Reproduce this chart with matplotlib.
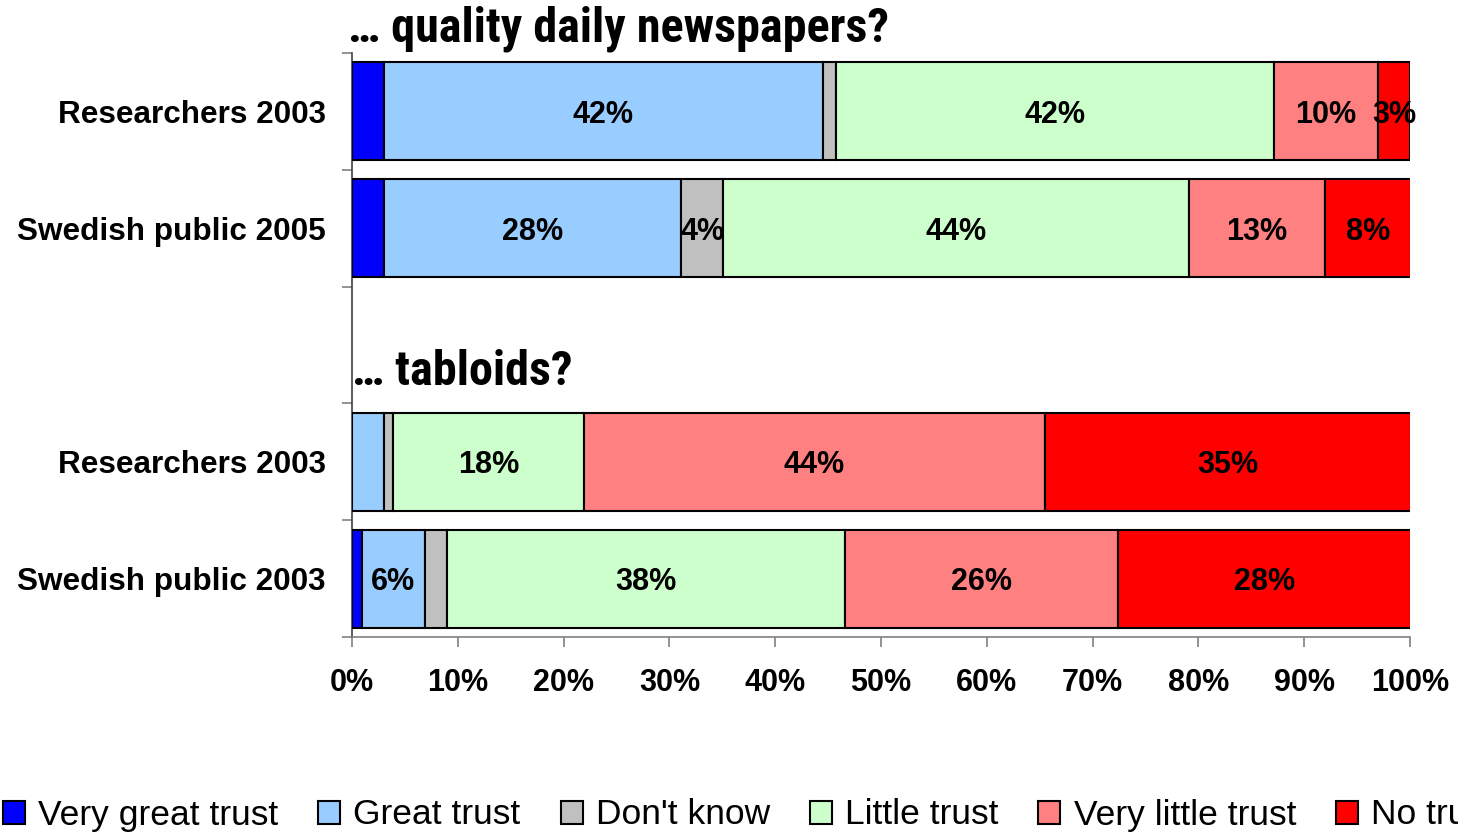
#!/usr/bin/env python3
"""Trust in quality daily newspapers and tabloids: researchers vs Swedish public."""

import matplotlib
matplotlib.use("Agg")
import matplotlib.pyplot as plt
from matplotlib import font_manager
from matplotlib.font_manager import FontProperties
from matplotlib.patches import Patch
from matplotlib.ticker import FixedLocator, PercentFormatter

# rows from top to bottom; the empty row is the gap under the tabloids title
categories = ["Researchers 2003", "Swedish public 2005", "",
              "Researchers 2003", "Swedish public 2003"]

series_names = ["Very great trust", "Great trust", "Don't know",
                "Little trust", "Very little trust", "No trust"]
colors = ["#0000FF", "#99CCFF", "#C0C0C0", "#CCFFCC", "#FF8080", "#FF0000"]

very_great = [3.0, 3.0, 0.0, 0.0, 0.9]
great = [41.5, 28.1, 0.0, 3.0, 6.0]
dont_know = [1.2, 4.0, 0.0, 0.9, 2.1]
little = [41.4, 44.0, 0.0, 18.0, 37.6]
very_little = [9.9, 12.9, 0.0, 43.6, 25.8]
no_trust = [3.0, 8.1, 0.0, 34.6, 27.7]

very_great_labels = ["", "", "", "", ""]
great_labels = ["42%", "28%", "", "", "6%"]
dont_know_labels = ["", "4%", "", "", ""]
little_labels = ["42%", "44%", "", "18%", "38%"]
very_little_labels = ["10%", "13%", "", "44%", "26%"]
no_trust_labels = ["3%", "8%", "", "35%", "28%"]

xticks = [0, 10, 20, 30, 40, 50, 60, 70, 80, 90, 100]

series = [very_great, great, dont_know, little, very_little, no_trust]
labels = [very_great_labels, great_labels, dont_know_labels,
          little_labels, very_little_labels, no_trust_labels]

BOLD = dict(family=["Liberation Sans", "DejaVu Sans"], weight="bold")


def is_bold(w):
    if isinstance(w, str):
        return w in ("bold", "semibold", "demibold", "demi", "heavy", "black", "extra bold")
    return w >= 600


# headings are in a narrow bold face; use a bold condensed file if one is installed
narrow = sorted((f for f in font_manager.fontManager.ttflist
                 if ("Narrow" in f.name or "Condensed" in f.name) and is_bold(f.weight)
                 and f.style == "normal"),
                key=lambda f: ("Liberation" not in f.name, "Roboto" not in f.name, f.name))
if narrow:
    head_prop = FontProperties(fname=narrow[0].fname)
else:
    head_prop = FontProperties(family="Liberation Sans", weight="bold")

fig = plt.figure(figsize=(14.58, 8.34), dpi=100)
ax = fig.add_axes([352 / 1458, 1 - 637 / 834, 1058 / 1458, 584 / 834])

ypos = list(range(len(categories)))
left = [0.0] * len(categories)
for vals, labs, color in zip(series, labels, colors):
    for i, (v, lab) in enumerate(zip(vals, labs)):
        if v > 0:
            ax.barh(ypos[i], v, left=left[i], height=0.84, color=color,
                    edgecolor="black", linewidth=1.5, zorder=3)
            if lab:
                ax.text(left[i] + v / 2, ypos[i], lab, ha="center",
                        va="center_baseline", fontsize=22, zorder=4, **BOLD)
        left[i] += v

ax.set_xlim(0, 100)
ax.set_ylim(len(categories) - 0.5, -0.5)
ax.xaxis.set_major_locator(FixedLocator(xticks))
ax.xaxis.set_major_formatter(PercentFormatter(decimals=0))
ax.set_yticks(ypos)
ax.set_yticklabels(categories)
ax.yaxis.set_minor_locator(FixedLocator([y - 0.5 for y in ypos] + [ypos[-1] + 0.5]))

ax.tick_params(axis="y", which="major", length=0, pad=19)
ax.tick_params(axis="y", which="minor", length=7, width=1.2, color="#808080")
ax.tick_params(axis="x", length=7, width=1.2, color="#808080", pad=15)
for lab in ax.get_xticklabels():
    lab.set_fontsize(22)
    lab.set_fontfamily(BOLD["family"])
    lab.set_fontweight("bold")
for lab in ax.get_yticklabels():
    lab.set_fontsize(22.7)
    lab.set_fontfamily(BOLD["family"])
    lab.set_fontweight("bold")

for side in ("top", "right"):
    ax.spines[side].set_visible(False)
ax.spines["left"].set_color("#404040")
ax.spines["bottom"].set_color("#808080")
for side in ("left", "bottom"):
    ax.spines[side].set_linewidth(1.2)

t1 = fig.text(348 / 1458, 1 - 42 / 834, "\u2026 quality daily newspapers?",
              fontproperties=head_prop, fontsize=34, va="baseline", ha="left")
t2 = fig.text(352 / 1458, 1 - 385 / 834, "\u2026 tabloids?",
              fontproperties=head_prop, fontsize=33, va="baseline", ha="left")

# scale the headings so they span the same width as in the original
fig.canvas.draw()
renderer = fig.canvas.get_renderer()
for txt, target in ((t1, 539), (t2, 221)):
    w = txt.get_window_extent(renderer).width
    txt.set_fontsize(txt.get_fontsize() * target / w)

handles = [Patch(facecolor=c, edgecolor="black", linewidth=1.5) for c in colors]
fig.legend(handles, series_names, loc="center left",
           bbox_to_anchor=(3 / 1458, 1 - 815 / 834), ncol=6, frameon=False,
           prop=dict(family=["Liberation Sans", "DejaVu Sans"], size=25.5),
           handlelength=0.62, handleheight=0.62, handletextpad=0.37,
           columnspacing=1.13, borderpad=0, borderaxespad=0)

fig.savefig("out.png", dpi=100)
